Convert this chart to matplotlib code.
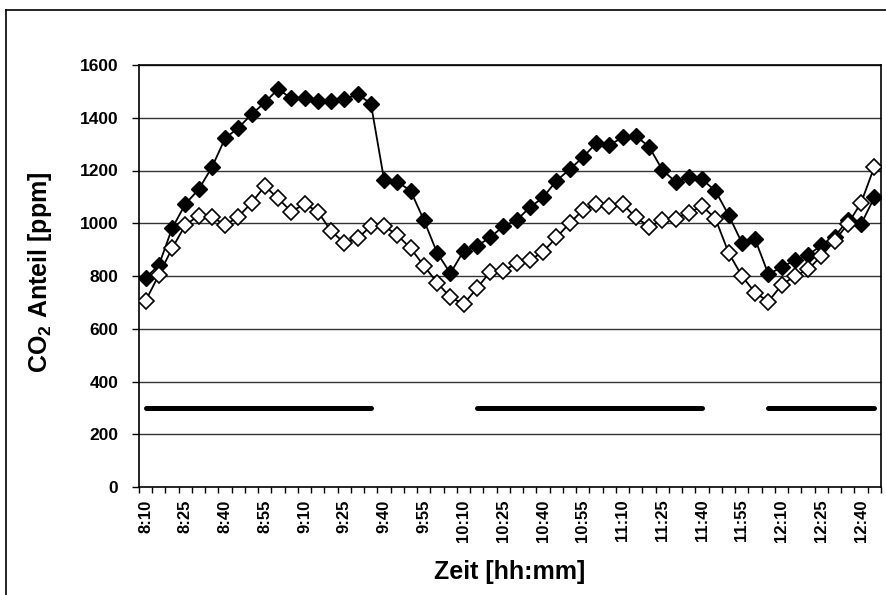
import matplotlib
matplotlib.use("Agg")
import matplotlib.pyplot as plt
import numpy as np

plt.rcParams['font.family'] = ['Liberation Sans', 'DejaVu Sans']
plt.rcParams['mathtext.fontset'] = 'custom'
plt.rcParams['mathtext.rm'] = 'Liberation Sans'
plt.rcParams['mathtext.bf'] = 'Liberation Sans:bold'

# time categories every 5 minutes 8:10 .. 12:45
times = [f"{(490 + 5*i)//60}:{(490 + 5*i) % 60:02d}" for i in range(56)]

co2_filled = [793, 841, 981, 1073, 1128, 1212, 1322, 1362, 1413, 1458,
              1509, 1473, 1473, 1463, 1463, 1470, 1489, 1454, 1164, 1157,
              1123, 1012, 888, 810, 895, 914, 946, 989, 1012, 1060,
              1098, 1161, 1204, 1250, 1303, 1296, 1326, 1331, 1290, 1202,
              1157, 1174, 1166, 1123, 1031, 926, 939, 807, 833, 860,
              879, 917, 949, 1012, 997, 1098]

co2_open = [706, 804, 905, 993, 1029, 1025, 993, 1025, 1078, 1141,
            1094, 1044, 1073, 1044, 970, 926, 943, 989, 989, 955,
            905, 839, 775, 719, 694, 753, 816, 820, 848, 860,
            892, 946, 1000, 1050, 1073, 1065, 1073, 1022, 987, 1012,
            1018, 1040, 1065, 1018, 888, 800, 737, 703, 766, 800,
            825, 876, 934, 997, 1078, 1214]

# occupancy marker line at 300 ppm (None = gap)
occupancy = [300]*18 + [None]*7 + [300]*18 + [None]*4 + [300]*9

tick_every = 3

fig = plt.figure(figsize=(8.87, 5.95), dpi=100)
ax = fig.add_axes([139/887, 1 - 487/595, (881-139)/887, (487-65)/595])

x = np.arange(len(times))
occ = np.array([np.nan if v is None else v for v in occupancy], dtype=float)

for yv in range(200, 1601, 200):
    ax.axhline(yv, color='#333333', lw=1.0, zorder=1)

ax.plot(x, occ, color='black', lw=3.6, solid_capstyle='round', zorder=2)
ax.plot(x, co2_filled, color='black', lw=1.3, marker='D', markersize=8,
        markerfacecolor='black', markeredgecolor='black', markeredgewidth=1.0, zorder=3)
ax.plot(x, co2_open, color='black', lw=1.3, marker='D', markersize=8,
        markerfacecolor='white', markeredgecolor='black', markeredgewidth=1.2, zorder=4)

ax.set_xlim(-0.5, len(times) - 0.5)
ax.set_ylim(0, 1600)
ax.set_yticks(range(0, 1601, 200))
ax.set_yticklabels([str(v) for v in range(0, 1601, 200)], fontsize=12.5, fontweight='bold')

ax.set_xticks(x[::tick_every])
ax.set_xticklabels(times[::tick_every], rotation=90, fontsize=12, fontweight='bold')
ax.set_xticks(np.arange(-0.5, len(times)), minor=True)
ax.tick_params(axis='x', which='major', length=0, pad=9)
ax.tick_params(axis='x', which='minor', length=4, width=1, direction='out')
ax.tick_params(axis='y', which='major', length=5, width=1, direction='out', pad=10)

for s in ax.spines.values():
    s.set_linewidth(1.2)
    s.set_color('black')

ax.set_ylabel('CO$_\\mathbf{2}$ Anteil [ppm]', fontsize=18, fontweight='bold')
ax.yaxis.set_label_coords((54 - 139) / 742, 0.51)
ax.set_xlabel('Zeit [hh:mm]', fontsize=18, fontweight='bold')
ax.xaxis.set_label_coords(0.5, -(560 - 487) / 422)

# outer chart-area border (left and top)
fig.add_artist(plt.Line2D([6/887, 6/887], [0, 1 - 10/595], transform=fig.transFigure, color='black', lw=1.2))
fig.add_artist(plt.Line2D([6/887, 1], [1 - 10/595, 1 - 10/595], transform=fig.transFigure, color='black', lw=1.2))

fig.savefig('out.png', dpi=100)
